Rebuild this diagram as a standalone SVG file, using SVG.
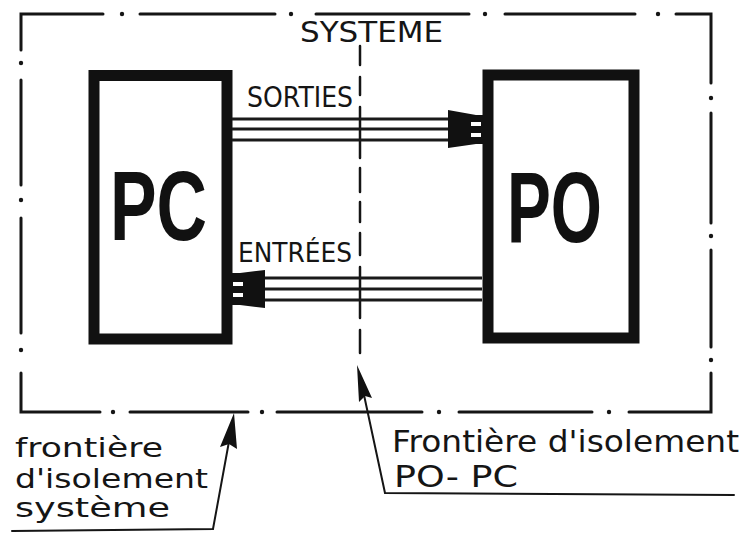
<svg xmlns="http://www.w3.org/2000/svg" width="745" height="535" viewBox="0 0 745 535">
<defs>
<style>
.ink{stroke:#151515;fill:none;stroke-linecap:round;stroke-linejoin:miter}
.border{stroke-width:3}
.dot{fill:#151515;stroke:none}
.axis{stroke-width:2.5}
.box{stroke:#111;stroke-width:11;fill:none}
.bus{stroke:#1a1a1a;stroke-width:2.8}
.head{fill:#111;stroke:none}
.notch{fill:#fff;stroke:none}
.lead{stroke-width:2}
.hand{font-family:"DejaVu Sans","Liberation Sans",sans-serif;fill:#151515}
.big{font-family:"Liberation Sans","DejaVu Sans",sans-serif;font-weight:bold;fill:#111}
</style>
</defs>
<rect width="745" height="535" fill="#fff"/>

<g id="system-boundary">
<path class="ink border" d="M21,50 L21,14 L103,14 M140,14 L275,14 M316,14 L469,14 M505,14 L635,14 M676,14 L711,14 L711,83 M711,113 L711,223 M711,250 L711,347 M711,373 L711,412 L629,412 M592,412 L459,412 M422,412 L277,412 M248,412 L130,412 M100,412 L21,412 L21,373 M21,333 L21,218 M21,185 L21,80"/>
<g class="dot">
<circle cx="122" cy="14" r="2.2"/><circle cx="291" cy="14" r="2.2"/><circle cx="485" cy="14" r="2.2"/><circle cx="658" cy="14" r="2.2"/>
<circle cx="711" cy="98" r="2.2"/><circle cx="711" cy="236" r="2.2"/><circle cx="711" cy="360" r="2.2"/>
<circle cx="609" cy="412" r="2.2"/><circle cx="439" cy="412" r="2.2"/><circle cx="262" cy="412" r="2.2"/><circle cx="113" cy="412" r="2.2"/>
<circle cx="21" cy="350" r="2.2"/><circle cx="21" cy="200" r="2.2"/><circle cx="21" cy="63" r="2.2"/>
</g>
<text class="hand" x="300" y="42" font-size="28" textLength="143" lengthAdjust="spacingAndGlyphs">SYSTEME</text>
</g>

<g id="po-pc-boundary">
<path class="ink axis" d="M360,46 L360,65 M360,77 L360,95 M360,107 L360,158 M360,168 L360,192 M360,202 L360,222 M360,233 L360,255 M360,267 L360,318 M360,330 L360,353"/>
</g>

<g id="PC">
<rect class="box" x="94" y="75.5" width="133" height="263.5"/>
<text class="big" x="110" y="240" font-size="98" textLength="97" lengthAdjust="spacingAndGlyphs">PC</text>
</g>

<g id="PO">
<rect class="box" x="488" y="75" width="146" height="263"/>
<text class="big" x="507" y="242" font-size="100" textLength="95" lengthAdjust="spacingAndGlyphs">PO</text>
</g>

<g id="connectors">
<g id="sorties">
<path class="bus" d="M232,119 L452,119 M232,129 L452,129 M232,140 L452,140"/>
<path class="head" d="M448,110 L476,115 L483,115 L483,144 L476,144 L448,148 Z"/>
<rect class="notch" x="471" y="122" width="10" height="4"/>
<rect class="notch" x="471" y="133" width="10" height="4"/>
<text class="hand" x="247" y="107" font-size="28" textLength="106" lengthAdjust="spacingAndGlyphs">SORTIES</text>
</g>
<g id="entrees">
<path class="bus" d="M262,278 L482,278 M262,289 L482,289 M262,300 L482,300"/>
<path class="head" d="M265,270 L265,308 L240,305 L232,305 L232,273 L240,273 Z"/>
<rect class="notch" x="233" y="282" width="10" height="4"/>
<rect class="notch" x="233" y="293" width="10" height="4"/>
<text class="hand" x="238" y="262" font-size="27" textLength="114" lengthAdjust="spacingAndGlyphs">ENTRÉES</text>
</g>
<g id="leader-system">
<path class="ink lead" d="M12,531 L213,529 L230,436"/>
<path class="head" d="M234,413 L237,449 L229,444 L220,447 Z"/>
</g>
<g id="leader-popc">
<path class="ink lead" d="M364,395 L385,493 L734,495"/>
<path class="head" d="M357,365 L372,398 L365,396 L359,402 Z"/>
</g>
</g>

<g id="labels">
<text class="hand" x="15" y="457" font-size="26" textLength="148" lengthAdjust="spacingAndGlyphs">frontière</text>
<text class="hand" x="15" y="488" font-size="26" textLength="193" lengthAdjust="spacingAndGlyphs">d'isolement</text>
<text class="hand" x="15" y="517" font-size="26" textLength="155" lengthAdjust="spacingAndGlyphs">système</text>
<text class="hand" x="392" y="452" font-size="30" textLength="347" lengthAdjust="spacingAndGlyphs">Frontière d'isolement</text>
<text class="hand" x="394" y="487" font-size="30" textLength="124" lengthAdjust="spacingAndGlyphs">PO- PC</text>
</g>
</svg>
